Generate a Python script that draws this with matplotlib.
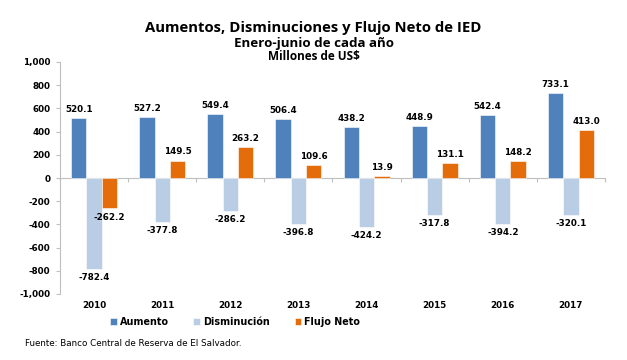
import numpy as np
import matplotlib.pyplot as plt

years = ['2010', '2011', '2012', '2013', '2014', '2015', '2016', '2017']
aumento = [520.1, 527.2, 549.4, 506.4, 438.2, 448.9, 542.4, 733.1]
disminucion = [-782.4, -377.8, -286.2, -396.8, -424.2, -317.8, -394.2, -320.1]
flujo_neto = [-262.2, 149.5, 263.2, 109.6, 13.9, 131.1, 148.2, 413.0]

series = [('Aumento', aumento, '#4F81BD'),
          ('Disminución', disminucion, '#B9CDE5'),
          ('Flujo Neto', flujo_neto, '#E46C0A')]

fig = plt.figure(figsize=(6.27, 3.6), dpi=100)
ax = fig.add_axes([60 / 627, 1 - 294 / 360, 545 / 627, 232 / 360])

x = np.arange(len(years))
w = 0.225
for i, (name, vals, col) in enumerate(series):
    bars = ax.bar(x + (i - 1) * w, vals, w, color=col, label=name,
                  edgecolor='white', linewidth=0.4)
    for b, v in zip(bars, vals):
        cx = b.get_x() + b.get_width() / 2
        if v >= 0:
            ax.annotate(f'{v:.1f}', (cx, v), xytext=(0, 3), textcoords='offset points',
                        ha='center', va='bottom', fontsize=6.3, fontweight='bold')
        else:
            ax.annotate(f'{v:.1f}', (cx, v), xytext=(0, -3), textcoords='offset points',
                        ha='center', va='top', fontsize=6.3, fontweight='bold')

ax.set_xlim(-0.5, len(years) - 0.5)
ax.set_ylim(-1000, 1000)
ax.set_yticks(range(-1000, 1001, 200))
ax.set_yticklabels([f'{t:,}' for t in range(-1000, 1001, 200)], fontsize=6.3, fontweight='bold')
ax.tick_params(axis='y', length=3, color='#BFBFBF', pad=4)

# group separators on the zero line
ax.set_xticks(np.arange(len(years) + 1) - 0.5)
ax.set_xticklabels([])
ax.tick_params(axis='x', length=3, color='#BFBFBF', direction='out')

for s in ['top', 'right']:
    ax.spines[s].set_visible(False)
ax.spines['left'].set_color('#BFBFBF')
ax.spines['bottom'].set_position(('data', 0))
ax.spines['bottom'].set_color('#BFBFBF')
ax.spines['bottom'].set_zorder(0)

# year labels under the plot
for xi, yr in zip(x, years):
    ax.text(xi, -12 / 232, yr, transform=ax.get_xaxis_transform(), ha='center', va='center',
            fontsize=6.3, fontweight='bold')

fig.text(0.5, 1 - 28 / 360, 'Aumentos, Disminuciones y Flujo Neto de IED', ha='center', va='center',
         fontsize=10.7, fontweight='bold', family='Open Sans')
fig.text(0.5, 1 - 44 / 360, 'Enero-junio de cada año', ha='center', va='center',
         fontsize=9.6, fontweight='bold', family='Open Sans')
fig.text(0.5, 1 - 57 / 360, 'Millones de US$', ha='center', va='center',
         fontsize=8.5, fontweight='bold', family='Open Sans')

leg = fig.legend(loc='center', bbox_to_anchor=(235 / 627, 1 - 322 / 360), ncol=3, frameon=False,
                 prop={'size': 6.9, 'weight': 'bold'}, handlelength=0.7, handleheight=0.7,
                 handletextpad=0.3, columnspacing=2.6)

fig.text(25 / 627, 1 - 343 / 360, 'Fuente: Banco Central de Reserva de El Salvador.', ha='left',
         va='center', fontsize=6.3, family='Liberation Sans Narrow')

fig.savefig('out.png', dpi=100)
